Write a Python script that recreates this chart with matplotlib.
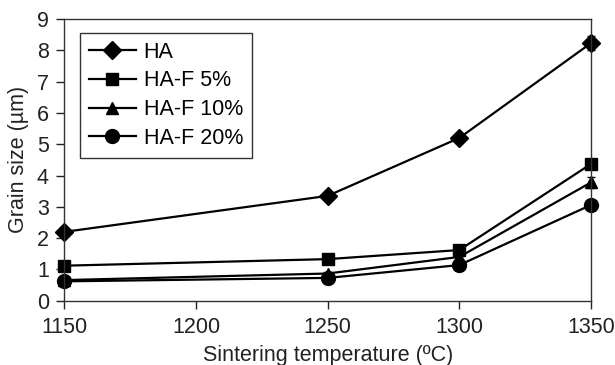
import matplotlib
matplotlib.use("Agg")
import matplotlib.pyplot as plt
from matplotlib.lines import Line2D

plt.rcParams['font.family'] = ['Liberation Sans', 'DejaVu Sans']

temps = [1150, 1250, 1300, 1350]
ha = [2.2, 3.35, 5.2, 8.23]
ha_f5 = [1.12, 1.33, 1.62, 4.37]
ha_f10 = [0.66, 0.87, 1.4, 3.78]
ha_f20 = [0.62, 0.73, 1.14, 3.06]
ha_err = [0.05, 0.05, 0.06, 0.22]
f5_err = [0.05, 0.05, 0.08, 0.1]
f10_err = [0.05, 0.05, 0.08, 0.18]
f20_err = [0.05, 0.05, 0.06, 0.05]

labels = ['HA', 'HA-F 5%', 'HA-F 10%', 'HA-F 20%']
markers = ['D', 's', '^', 'o']
msizes = [9, 9, 9, 10]

fig = plt.figure(figsize=(6.15, 3.65), dpi=100)
ax = fig.add_axes([0.1045, 0.176, 0.8565, 0.772])

series = [ha, ha_f5, ha_f10, ha_f20]
errs = [ha_err, f5_err, f10_err, f20_err]
handles = []
for y, e, lab, m, s in zip(series, errs, labels, markers, msizes):
    ax.errorbar(temps, y, yerr=e, color='black', marker=m, markersize=s,
                linewidth=1.6, elinewidth=1, capsize=3, clip_on=False)
    handles.append(Line2D([], [], color='black', marker=m, markersize=s, linewidth=1.6))

ax.set_xlim(1150, 1350)
ax.set_ylim(0, 9)
ax.set_xticks([1150, 1200, 1250, 1300, 1350])
ax.set_yticks(range(0, 10))
ax.tick_params(direction='out', length=6, width=1, labelsize=15.5, colors='#222222')
ax.tick_params(axis='x', pad=6)
ax.tick_params(axis='y', pad=5)
for sp in ax.spines.values():
    sp.set_linewidth(1)
    sp.set_color('#333333')

ax.set_xlabel('Sintering temperature (ºC)', fontsize=15.5, color='#222222', labelpad=5)
ax.set_ylabel('Grain size (µm)', fontsize=15.5, color='#222222', labelpad=6)

leg = ax.legend(handles, labels, loc='upper left', bbox_to_anchor=(0.03, 0.95), fontsize=15.5,
                frameon=True, fancybox=False, edgecolor='#333333', handlelength=2.2,
                borderpad=0.4, labelspacing=0.36, borderaxespad=0, handletextpad=0.35,
                framealpha=1)
leg.get_frame().set_linewidth(1)

fig.savefig('out.png', dpi=100)
